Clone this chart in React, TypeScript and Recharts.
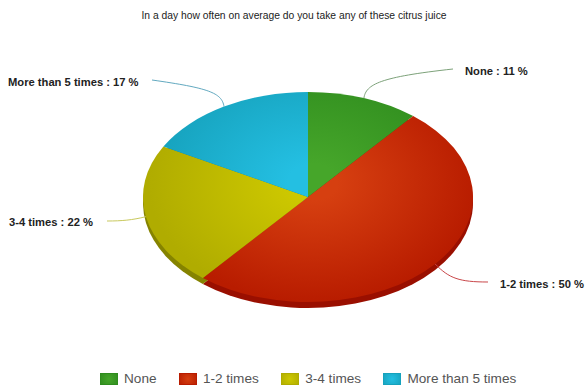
import React from "react";
import { PieChart, Pie, Cell, Legend } from "recharts";

const WIDTH = 586;
const HEIGHT = 391;

// Survey answers, in drawing order clockwise from twelve o'clock
const categories = ["None", "1-2 times", "3-4 times", "More than 5 times"];
const shares = [11, 50, 22, 17];
const chartTitle = "In a day how often on average do you take any of these citrus juice";

const gradientIds = ["sliceNone", "sliceLow", "sliceMid", "sliceHigh"];
const lightColors = ["#46a62a", "#d63f10", "#cdc800", "#24bfe2"];
const rimColors = ["#2f8c1e", "#b81c00", "#b0ac00", "#16a2bd"];
const sideColors = ["#1f6a14", "#9a0f00", "#858300", "#0e7c92"];
const leaderColors = ["#7da27a", "#c9474a", "#c9c95e", "#62a9c0"];

// Where each callout ends and where its text starts
const calloutEnds = [
  { x: 453, y: 69, textX: 465, textY: 71 },
  { x: 488, y: 282, textX: 500, textY: 284 },
  { x: 107, y: 221, textX: 9, textY: 222 },
  { x: 152, y: 80, textX: 8, textY: 82 },
];

const data = categories.map((name, i) => ({ name, value: shares[i] }));

const CX = 308;
const CY = 197;
const RADIUS = 165;
const SQUASH = 105 / 165;
const DEPTH = 6;
const FONT = "'Liberation Sans', Arial, sans-serif";

const toRad = Math.PI / 180;

// Slice of a tilted disc: the library's circular sector flattened vertically
function EllipseSlice(props: any) {
  const { cx, cy, outerRadius, startAngle, endAngle, fill } = props;
  const ry = outerRadius * SQUASH;
  const x0 = cx + outerRadius * Math.cos(startAngle * toRad);
  const y0 = cy - ry * Math.sin(startAngle * toRad);
  const x1 = cx + outerRadius * Math.cos(endAngle * toRad);
  const y1 = cy - ry * Math.sin(endAngle * toRad);
  const large = Math.abs(endAngle - startAngle) > 180 ? 1 : 0;
  const d = `M${cx},${cy}L${x0},${y0}A${outerRadius},${ry} 0 ${large} 1 ${x1},${y1}Z`;
  return <path d={d} fill={fill} stroke="none" />;
}

// Bold callout with a curved leader running from the disc edge
function Callout(props: any) {
  const { cx, cy, outerRadius, midAngle, index, name, value } = props;
  const end = calloutEnds[index];
  const sx = cx + outerRadius * Math.cos(midAngle * toRad);
  const sy = cy - outerRadius * SQUASH * Math.sin(midAngle * toRad);
  const side = end.x > sx ? 1 : -1;
  const bend =
    index === 0 || index === 3
      ? `C${sx + side * 2},${sy - 14} ${sx + side * 16},${end.y + 8} ${end.x},${end.y}`
      : `C${sx + side * 14},${sy + (end.y - sy) * 0.8} ${sx + side * 24},${end.y} ${end.x},${end.y}`;
  return (
    <g>
      <path d={`M${sx},${sy}${bend}`} fill="none" stroke={leaderColors[index]} strokeWidth={1} />
      <text x={end.textX} y={end.textY + 3.5} fontFamily={FONT} fontSize={11.2} fontWeight={700} fill="#222">
        {`${name} : ${value} %`}
      </text>
    </g>
  );
}

function LegendRow() {
  return (
    <div
      style={{
        display: "flex",
        fontFamily: FONT,
        fontSize: 13.6,
        lineHeight: "16px",
        color: "#555",
        whiteSpace: "nowrap",
      }}
    >
      {categories.map((name, i) => (
        <div key={name} style={{ display: "flex", alignItems: "center", marginRight: 22.4 }}>
          <span
            style={{
              width: 18,
              height: 12,
              marginRight: 6,
              background: `radial-gradient(circle, ${lightColors[i]}, ${rimColors[i]})`,
              boxShadow: `inset 0 0 0 1px ${rimColors[i]}`,
            }}
          />
          {name}
        </div>
      ))}
    </div>
  );
}

export default function App() {
  return (
    <div style={{ position: "absolute", left: 0, top: 0, width: WIDTH, height: HEIGHT, background: "#fff" }}>
      <PieChart width={WIDTH} height={HEIGHT} margin={{ top: 0, right: 0, bottom: 0, left: 0 }}>
        <defs>
          {gradientIds.map((id, i) => (
            <radialGradient
              key={id}
              id={id}
              gradientUnits="userSpaceOnUse"
              cx={0}
              cy={0}
              r={1}
              gradientTransform={`translate(${CX + 5},${CY - 15}) scale(${RADIUS},${RADIUS * SQUASH + 15})`}
            >
              <stop offset="0.15" stopColor={lightColors[i]} />
              <stop offset="1" stopColor={rimColors[i]} />
            </radialGradient>
          ))}
        </defs>
        <text x={294} y={19} textAnchor="middle" fontFamily={FONT} fontSize={10.3} fill="#222">
          {chartTitle}
        </text>
        {/* Side wall, drawn first so the top surface covers it */}
        <Pie
          data={data}
          dataKey="value"
          nameKey="name"
          cx={CX}
          cy={CY + DEPTH}
          outerRadius={RADIUS}
          startAngle={90}
          endAngle={-270}
          stroke="none"
          legendType="none"
          isAnimationActive={false}
          shape={EllipseSlice}
        >
          {categories.map((name, i) => (
            <Cell key={name} fill={sideColors[i]} />
          ))}
        </Pie>
        <Pie
          data={data}
          dataKey="value"
          nameKey="name"
          cx={CX}
          cy={CY}
          outerRadius={RADIUS}
          startAngle={90}
          endAngle={-270}
          stroke="none"
          isAnimationActive={false}
          shape={EllipseSlice}
          label={Callout}
          labelLine={false}
        >
          {categories.map((name, i) => (
            <Cell key={name} fill={`url(#${gradientIds[i]})`} />
          ))}
        </Pie>
        <Legend
          content={() => <LegendRow />}
          wrapperStyle={{ left: 100, top: 371, bottom: "auto", width: "auto" }}
        />
      </PieChart>
    </div>
  );
}
